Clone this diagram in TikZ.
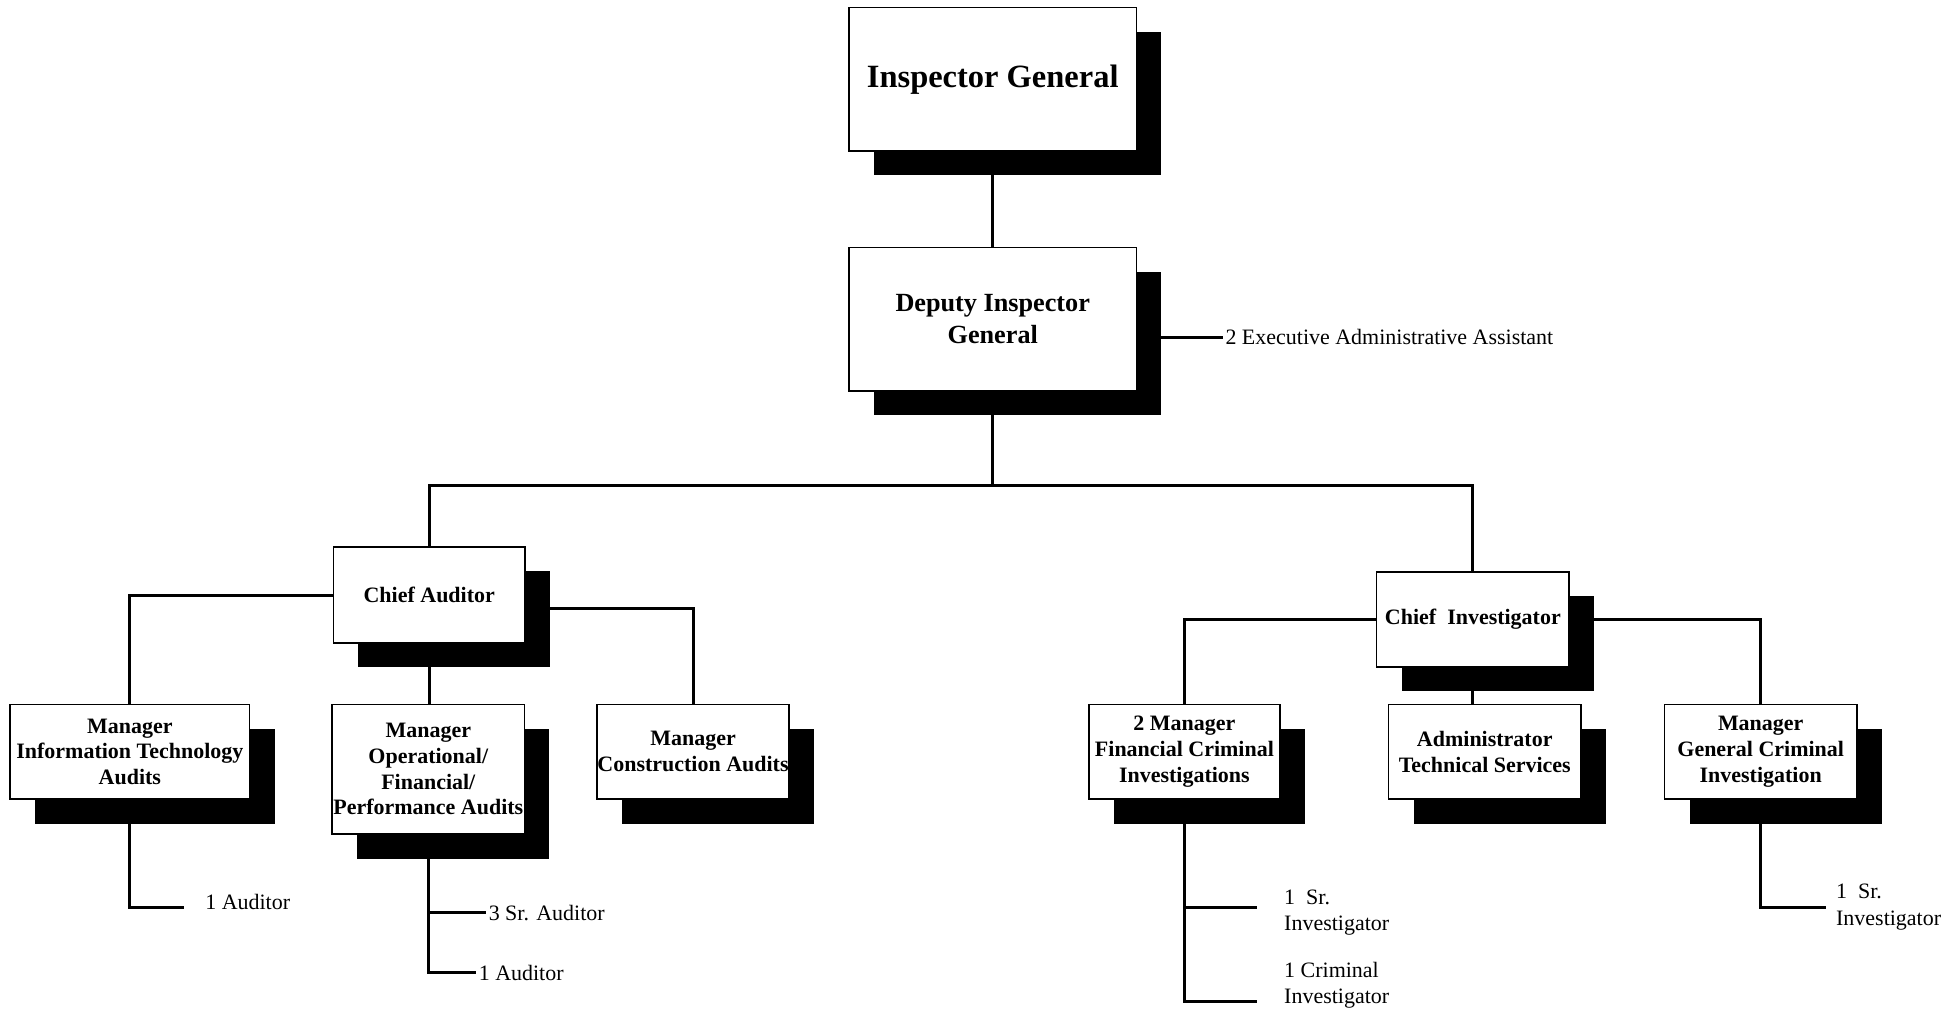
\documentclass[tikz,border=0pt]{standalone}
\usepackage{fontspec}
\setmainfont{Liberation Serif}
\usetikzlibrary{shadows}
\begin{document}
\begin{tikzpicture}[x=0.5pt,y=-0.5pt,
  orgbox/.style={draw=black, line width=0.6pt, fill=white, inner sep=0pt, align=center,
    font=\fontsize{8.8}{10.3}\selectfont\bfseries,
    general shadow={fill=black, shadow xshift=10pt, shadow yshift=-9.75pt}},
  link/.style={line width=1.2pt},
  staff/.style={inner sep=1pt, anchor=west, align=left, font=\fontsize{8.8}{10.6}\selectfont}]
\useasboundingbox (0,0) rectangle (1568,809);

% executive boxes
\node[orgbox, minimum width=115pt, minimum height=57.5pt,
      font=\fontsize{13}{15}\selectfont\bfseries] (ig) at (795,63.5) {\raisebox{-1.5pt}{Inspector General}};
\node[orgbox, minimum width=115pt, minimum height=57.5pt,
      font=\fontsize{10.5}{12.5}\selectfont\bfseries] (dig) at (795,255.5) {Deputy Inspector\\General};

% division heads
\node[orgbox, minimum width=76.75pt, minimum height=38.5pt] (ca) at (343.75,476.5) {Chief Auditor};
\node[orgbox, minimum width=77pt, minimum height=38pt] (ci) at (1179.5,496) {Chief\ \ Investigator};

% managers
\node[orgbox, minimum width=96pt, minimum height=38pt] (it) at (104,602) {Manager\\Information Technology\\Audits};
\node[orgbox, minimum width=77pt, minimum height=52pt] (op) at (343,616) {Manager\\Operational/\\Financial/\\Performance Audits};
\node[orgbox, minimum width=77pt, minimum height=38pt] (con) at (555,602) {Manager\\Construction Audits};
\node[orgbox, minimum width=76.5pt, minimum height=38pt] (fin) at (948.5,602) {2 Manager\\Financial Criminal\\Investigations};
\node[orgbox, minimum width=77pt, minimum height=38pt] (adm) at (1189,602) {Administrator\\Technical Services};
\node[orgbox, minimum width=77pt, minimum height=38pt] (gen) at (1410,602) {Manager\\General Criminal\\Investigation};

% staff positions
\node[staff] (eaa) at (979,270) {2 Executive Administrative Assistant};
\node[staff] (itaud) at (162,722) {1 Auditor};
\node[staff] (opsr) at (389,731) {3 Sr. Auditor};
\node[staff] (opaud) at (381,779) {1 Auditor};
\node[staff] (finsr) at (1026,731) {1\ \ Sr.\\Investigator};
\node[staff] (fincr) at (1026,789) {1 Criminal\\Investigator};
\node[staff] (gensr) at (1468,726.5) {1\ \ Sr.\\Investigator};

\coordinate (bus) at (795,389);
\coordinate (c1) at (147,727);
\coordinate (f1) at (1007,727);
\coordinate (f2) at (1007,802);
\coordinate (g1) at (1462,727);

% reporting lines
\draw[link] (ig.south) -- (dig.north);
\draw[link] (dig.east |- eaa.west) -- (eaa.west);
\draw[link] (dig.south) -- (bus);
\draw[link] (ca.north) |- (bus) -| (ci.north);

\draw[link] (ca.west) -| (it.north);
\draw[link] (ca.south) -- (ca.south |- op.north);
\draw[link] (ca.east) ++(0,10.5) -| (con.north);

\draw[link] (ci.west) -| (fin.north);
\draw[link] (ci.east) -| (gen.north);
\draw[link] (ci.south) -- (ci.south |- adm.north);

\draw[link] (it.south) |- (c1);
\draw[link] (op.south) |- (opsr.west);
\draw[link] (op.south) |- (opaud.west);
\draw[link] (fin.south) |- (f1);
\draw[link] (fin.south) |- (f2);
\draw[link] (gen.south) |- (g1);
\end{tikzpicture}
\end{document}
